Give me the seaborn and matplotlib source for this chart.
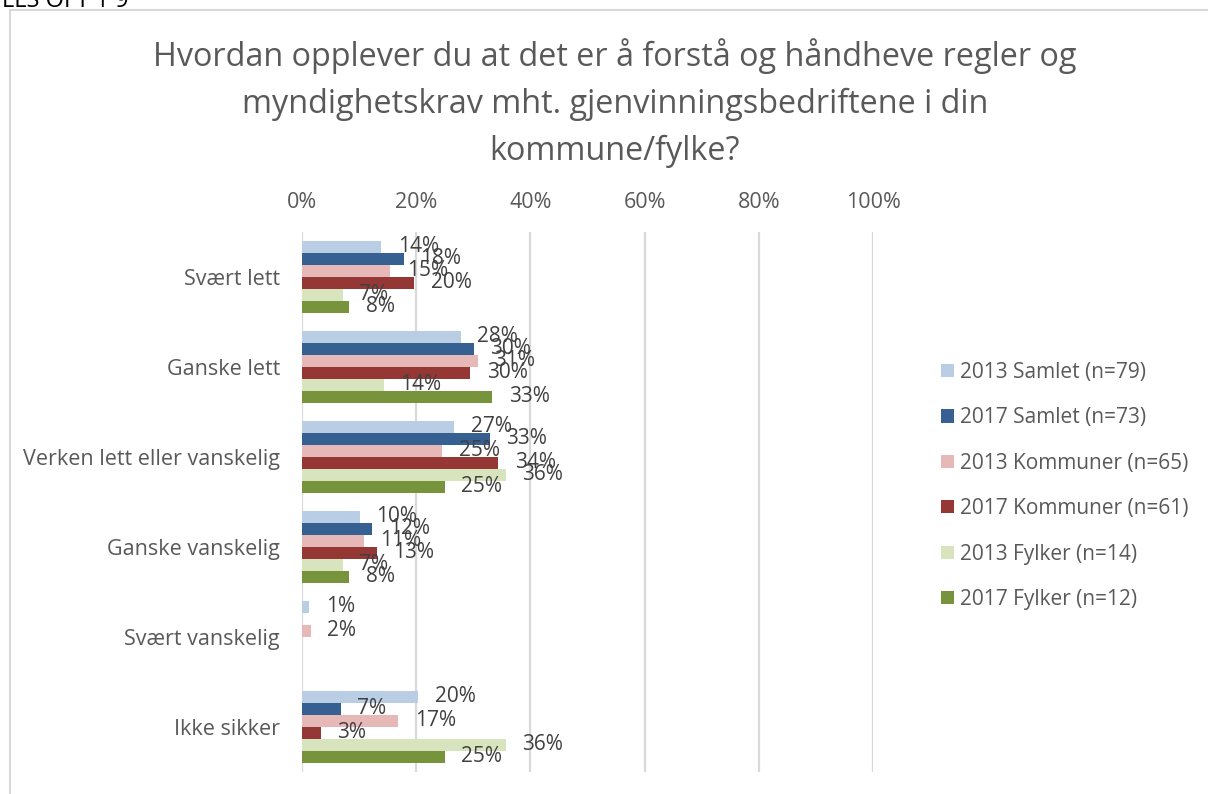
import matplotlib
matplotlib.use("Agg")
import matplotlib.pyplot as plt
import seaborn as sns
import pandas as pd
import numpy as np
from matplotlib.patches import Rectangle, Patch

categories = ["Svært lett", "Ganske lett", "Verken lett eller vanskelig",
              "Ganske vanskelig", "Svært vanskelig", "Ikke sikker"]
series = ["2013 Samlet (n=79)", "2017 Samlet (n=73)", "2013 Kommuner (n=65)",
          "2017 Kommuner (n=61)", "2013 Fylker (n=14)", "2017 Fylker (n=12)"]
# values in percent; None = no answer / no bar
samlet_2013 = [13.9, 27.8, 26.6, 10.1, 1.3, 20.3]
samlet_2017 = [17.8, 30.1, 32.9, 12.3, None, 6.8]
kommuner_2013 = [15.4, 30.8, 24.6, 10.8, 1.5, 16.9]
kommuner_2017 = [19.7, 29.5, 34.4, 13.1, None, 3.3]
fylker_2013 = [7.1, 14.3, 35.7, 7.1, None, 35.7]
fylker_2017 = [8.3, 33.3, 25.0, 8.3, None, 25.0]
tick_labels = ["0%", "20%", "40%", "60%", "80%", "100%"]
colors = ["#B9CDE5", "#376092", "#E6B9B8", "#953735", "#D7E4BD", "#77933C"]

all_vals = [samlet_2013, samlet_2017, kommuner_2013, kommuner_2017, fylker_2013, fylker_2017]
rows = []
for s, vals in zip(series, all_vals):
    for c, v in zip(categories, vals):
        rows.append({"cat": c, "series": s, "val": 0.0 if v is None else v / 100.0})
df = pd.DataFrame(rows)

sns.set_theme(style="white")
plt.rcParams['font.family'] = ['Open Sans', 'DejaVu Sans']

fig = plt.figure(figsize=(12.08, 7.94), dpi=100)
W, H = 1208, 794
ax = fig.add_axes([302 / W, 1 - 772 / H, (873 - 302) / W, (772 - 232) / H])

sns.barplot(data=df, y="cat", x="val", hue="series", order=categories,
            hue_order=series, palette=colors, orient="h", ax=ax,
            width=0.8, saturation=1, legend=False, linewidth=0)

txt = "#404040"
for cont, vals in zip(ax.containers, all_vals):
    labels = ["" if v is None else f"{round(v):d}%" for v in vals]
    ax.bar_label(cont, labels=labels, padding=12, fontsize=15, color=txt)

ax.set_xlim(0, 1)
ax.set_ylim(5.5, -0.5)
ax.set_xticks([0, 0.2, 0.4, 0.6, 0.8, 1.0])
ax.set_xticklabels(tick_labels)
ax.xaxis.tick_top()
ax.tick_params(axis="x", length=0, pad=14, labelsize=15.5, labelcolor="#595959")
ax.tick_params(axis="y", length=0, pad=16, labelsize=15.5, labelcolor="#595959")
ax.set_xlabel("")
ax.set_ylabel("")
for sp in ax.spines.values():
    sp.set_visible(False)
ax.grid(axis="x", color="#D9D9D9", linewidth=1.6)
ax.grid(axis="y", visible=False)
ax.set_axisbelow(True)

# chart frame
fig.patches.append(Rectangle((10 / W, -0.05), 1.1, 1 - 10 / H + 0.05,
                             transform=fig.transFigure, fill=False,
                             edgecolor="#D9D9D9", linewidth=1.5, zorder=0))
# cut-off header text at the very top (only its lower half is visible)
fig.text(2 / W, 1 - 1 / H, "LLS OFT 1 9", fontsize=17, color="black",
         ha="left", va="center")

title_lines = ["Hvordan opplever du at det er å forstå og håndheve regler og",
               "myndighetskrav mht. gjenvinningsbedriftene i din",
               "kommune/fylke?"]
for i, line in enumerate(title_lines):
    fig.text(615 / W, 1 - (66 + 47 * i) / H, line, fontsize=23.3, color="#595959",
             ha="center", va="baseline")

handles = [Patch(facecolor=c, edgecolor="none") for c in colors]
fig.legend(handles, series, loc="center left", bbox_to_anchor=(941 / W, 1 - 486 / H),
           frameon=False, fontsize=15, labelcolor="#595959", handlelength=0.6,
           handleheight=0.6, handletextpad=0.3, labelspacing=1.17,
           borderpad=0, borderaxespad=0)

fig.savefig("out.png", dpi=100)
